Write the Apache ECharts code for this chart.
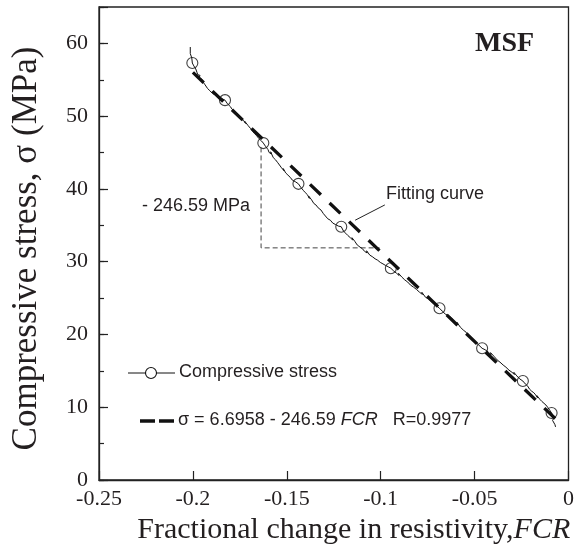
<!DOCTYPE html>
<html><head><meta charset="utf-8">
<script src="https://cdn.jsdelivr.net/npm/echarts@6/dist/echarts.min.js"></script>
<style>html,body{margin:0;padding:0;background:#fff}#c{width:577px;height:558px}</style>
</head><body><div id="c"></div>
<script>
// Measured compressive stress curve (FCR, sigma in MPa)
const stressFCR = [-0.2014,-0.2014,-0.2006,-0.2003,-0.1995,-0.1985,-0.1978,-0.1970,-0.1974,-0.1962,-0.1968,-0.1953,-0.1948,-0.1952,-0.1935,-0.1922,-0.1910,-0.1895,-0.1880,-0.1862,-0.1845,-0.1829,
  -0.1816,-0.1800,-0.1793,-0.1780,-0.1770,-0.1755,-0.1742,-0.1730,-0.1720,-0.1724,-0.1706,-0.1693,-0.1683,-0.1672,-0.1660,-0.1648,-0.1635,-0.1625,
  -0.1612,-0.1600,-0.1594,-0.1582,-0.1586,-0.1572,-0.1560,-0.1548,-0.1540,-0.1528,-0.1515,-0.1519,-0.1506,-0.1494,-0.1482,-0.1470,-0.1455,-0.1438,
  -0.1425,-0.1412,-0.1402,-0.1390,-0.1380,-0.1383,-0.1368,-0.1356,-0.1345,-0.1333,-0.1318,-0.1305,-0.1295,-0.1299,-0.1282,-0.1268,-0.1255,-0.1240,-0.1226,-0.1210,
  -0.1198,-0.1186,-0.1175,-0.1162,-0.1150,-0.1153,-0.1138,-0.1125,-0.1110,-0.1098,-0.1085,-0.1072,-0.1075,-0.1058,-0.1045,-0.1030,-0.1016,-0.1002,-0.0988,-0.0975,-0.0960,-0.0946,
  -0.0930,-0.0915,-0.0902,-0.0905,-0.0888,-0.0872,-0.0856,-0.0842,-0.0825,-0.0810,-0.0793,-0.0778,-0.0781,-0.0761,-0.0746,-0.0730,-0.0710,-0.0687,
  -0.0672,-0.0656,-0.0640,-0.0624,-0.0608,-0.0592,-0.0595,-0.0576,-0.0560,-0.0545,-0.0529,-0.0512,-0.0497,-0.0480,-0.0460,
  -0.0444,-0.0428,-0.0412,-0.0415,-0.0397,-0.0380,-0.0365,-0.0348,-0.0333,-0.0317,-0.0301,-0.0288,-0.0291,-0.0275,-0.0260,-0.0243,
  -0.0230,-0.0217,-0.0208,-0.0196,-0.0185,-0.0175,-0.0165,-0.0168,-0.0153,-0.0142,-0.0132,-0.0120,-0.0111,-0.0100,-0.0090,
  -0.0082,-0.0078,-0.0085,-0.0080,-0.0072,-0.0069];
const stressSigma = [59.5,58.6,58.0,57.3,56.9,56.5,56.0,56.2,55.7,55.6,55.2,55.1,54.6,54.9,54.3,53.8,53.5,53.1,52.9,52.7,52.4,52.2,
  51.7,51.3,51.0,50.7,50.2,49.9,49.6,49.4,49.0,49.3,48.7,48.3,48.1,47.6,47.3,46.9,46.6,46.3,
  45.8,45.4,45.0,44.8,45.1,44.3,44.0,43.6,43.4,42.9,42.5,42.8,42.2,41.9,41.6,41.2,41.0,40.7,
  40.2,39.8,39.5,39.2,38.7,39.0,38.5,38.0,37.8,37.4,37.1,36.6,36.4,36.7,35.9,35.7,35.3,35.1,34.9,34.8,
  34.2,33.9,33.6,33.3,33.0,33.3,32.8,32.3,32.0,31.8,31.4,31.2,31.5,30.9,30.7,30.4,30.2,29.9,29.7,29.5,29.3,29.1,
  28.7,28.4,28.1,28.4,27.9,27.5,27.2,26.8,26.5,26.2,25.8,25.5,25.8,25.1,24.9,24.5,24.1,23.6,
  23.2,22.8,22.6,22.3,21.8,21.4,21.7,21.0,20.6,20.3,19.8,19.4,19.0,18.6,18.1,
  17.9,17.6,17.2,17.5,17.0,16.5,16.2,15.8,15.5,15.1,14.8,14.5,14.8,14.3,13.9,13.6,
  13.2,12.9,12.5,12.2,12.0,11.7,11.3,11.6,11.1,10.8,10.7,10.3,10.0,9.6,9.2,
  8.8,8.5,8.2,8.0,7.6,7.3];
// Circle markers on the measured curve
const markerFCR = [-0.2003,-0.1829,-0.1625,-0.1438,-0.1210,-0.0946,-0.0687,-0.0460,-0.0243,-0.0090];
const markerSigma = [57.3,52.2,46.3,40.7,34.8,29.1,23.6,18.1,13.6,9.2];
// Linear fit end points: sigma = 6.6958 - 246.59 FCR
const fitFCR = [-0.2000,-0.0050];
const fitSigma = [56.01,7.93];
// Slope guide triangle and leader line
const guideFCR = [-0.1637,-0.1637,-0.1006];
const guideSigma = [45.7,31.9,31.9];
const leaderFCR = [-0.1136,-0.0978];
const leaderSigma = [35.7,37.8];
// Tick labels
const xTickValues = [-0.25,-0.2,-0.15,-0.1,-0.05,0];
const xTickLabels = ['-0.25','-0.2','-0.15','-0.1','-0.05','0'];
const yTickValues = [0,10,20,30,40,50,60];
const yTickLabels = ['0','10','20','30','40','50','60'];

const zip = (a,b) => a.map((v,i)=>[v,b[i]]);
const SERIF = 'Liberation Serif, Times New Roman, serif';
const SANS = 'Liberation Sans, Arial, sans-serif';
const INK = '#231f20';

function lbl(values, labels){
  return v => { const i = values.findIndex(t => Math.abs(t - v) < 1e-9); return i < 0 ? '' : labels[i]; };
}

const chart = echarts.init(document.getElementById('c'), null, {renderer:'canvas'});
chart.setOption({
  animation:false,
  backgroundColor:'#fff',
  grid:{left:99,right:5,top:7,bottom:78,show:true,borderColor:'#222',borderWidth:1.3,backgroundColor:'transparent'},
  xAxis:{type:'value',min:-0.25,max:0,interval:0.05,
    axisLine:{show:true,onZero:false,lineStyle:{color:'#222',width:1.3}},
    axisTick:{show:true,inside:true,length:9,lineStyle:{color:'#222',width:1.2}},
    axisLabel:{margin:8,color:INK,fontFamily:SERIF,fontSize:22,formatter:lbl(xTickValues,xTickLabels)},
    splitLine:{show:false},
    name:'{n|Fractional change in resistivity,}{i|FCR}',nameLocation:'middle',nameGap:32,
    nameTextStyle:{padding:[0,0,0,40],rich:{
      n:{fontFamily:SERIF,fontSize:30,color:INK},
      i:{fontFamily:SERIF,fontSize:30,fontStyle:'italic',color:INK}}}
  },
  yAxis:[{type:'value',min:0,max:65,interval:10,position:'left',
    axisLine:{show:true,onZero:false,lineStyle:{color:'#222',width:1.3}},
    axisTick:{show:true,inside:true,length:9,lineStyle:{color:'#222',width:1.2}},
    axisLabel:{margin:11,color:INK,fontFamily:SERIF,fontSize:22,formatter:lbl(yTickValues,yTickLabels)},
    splitLine:{show:false},
    name:'Compressive stress, \u03c3 (MPa)',nameLocation:'middle',nameGap:55,nameRotate:90,
    nameTextStyle:{fontFamily:SERIF,fontSize:35,color:INK,padding:[0,10,0,0]}
  },{type:'value',min:0,max:65,interval:5,position:'left',offset:0,
    axisLine:{show:false,onZero:false},axisLabel:{show:false},splitLine:{show:false},
    axisTick:{show:true,inside:true,length:5,lineStyle:{color:'#222',width:1.2}}
  }],
  series:[
    {name:'Compressive stress',type:'line',data:zip(stressFCR,stressSigma),symbol:'none',
      lineStyle:{color:'#111',width:1},z:3},
    {name:'markers',type:'scatter',data:zip(markerFCR,markerSigma),symbol:'circle',symbolSize:11,
      itemStyle:{color:'rgba(0,0,0,0)',borderColor:'#111',borderWidth:1.1},z:4},
    {name:'fit',type:'line',data:zip(fitFCR,fitSigma),symbol:'none',
      lineStyle:{color:'#111',width:3.3,type:[15,12]},z:2},
    {name:'guide',type:'line',data:zip(guideFCR,guideSigma),symbol:'none',
      lineStyle:{color:'#444',width:1,type:[5,3]},z:1},
    {name:'leader',type:'line',data:zip(leaderFCR,leaderSigma),symbol:'none',
      lineStyle:{color:'#222',width:1},z:1}
  ],
  graphic:[
    {type:'text',left:475,top:30,style:{text:'MSF',font:'bold 28px '+SERIF,fill:INK}},
    {type:'text',left:142,top:197,style:{text:'- 246.59 MPa',font:'18px '+SANS,fill:INK}},
    {type:'text',left:386,top:185,style:{text:'Fitting curve',font:'18px '+SANS,fill:INK}},
    {type:'line',shape:{x1:128,y1:373,x2:175,y2:373},style:{stroke:'#111',lineWidth:1}},
    {type:'circle',shape:{cx:151,cy:373,r:5.5},style:{stroke:'#111',lineWidth:1.1,fill:'#fff'}},
    {type:'text',left:179,top:363,style:{text:'Compressive stress',font:'18px '+SANS,fill:INK}},
    {type:'line',shape:{x1:140,y1:421,x2:155,y2:421},style:{stroke:'#111',lineWidth:3.5}},
    {type:'line',shape:{x1:159,y1:421,x2:174,y2:421},style:{stroke:'#111',lineWidth:3.5}},
    {type:'text',left:178,top:411,style:{rich:{
        a:{font:'18px '+SANS,fill:INK},b:{font:'italic 18px '+SANS,fill:INK}},
      text:'{a|\u03c3 = 6.6958 - 246.59 }{b|FCR}{a|   R=0.9977}'}}
  ]
});
</script></body></html>
